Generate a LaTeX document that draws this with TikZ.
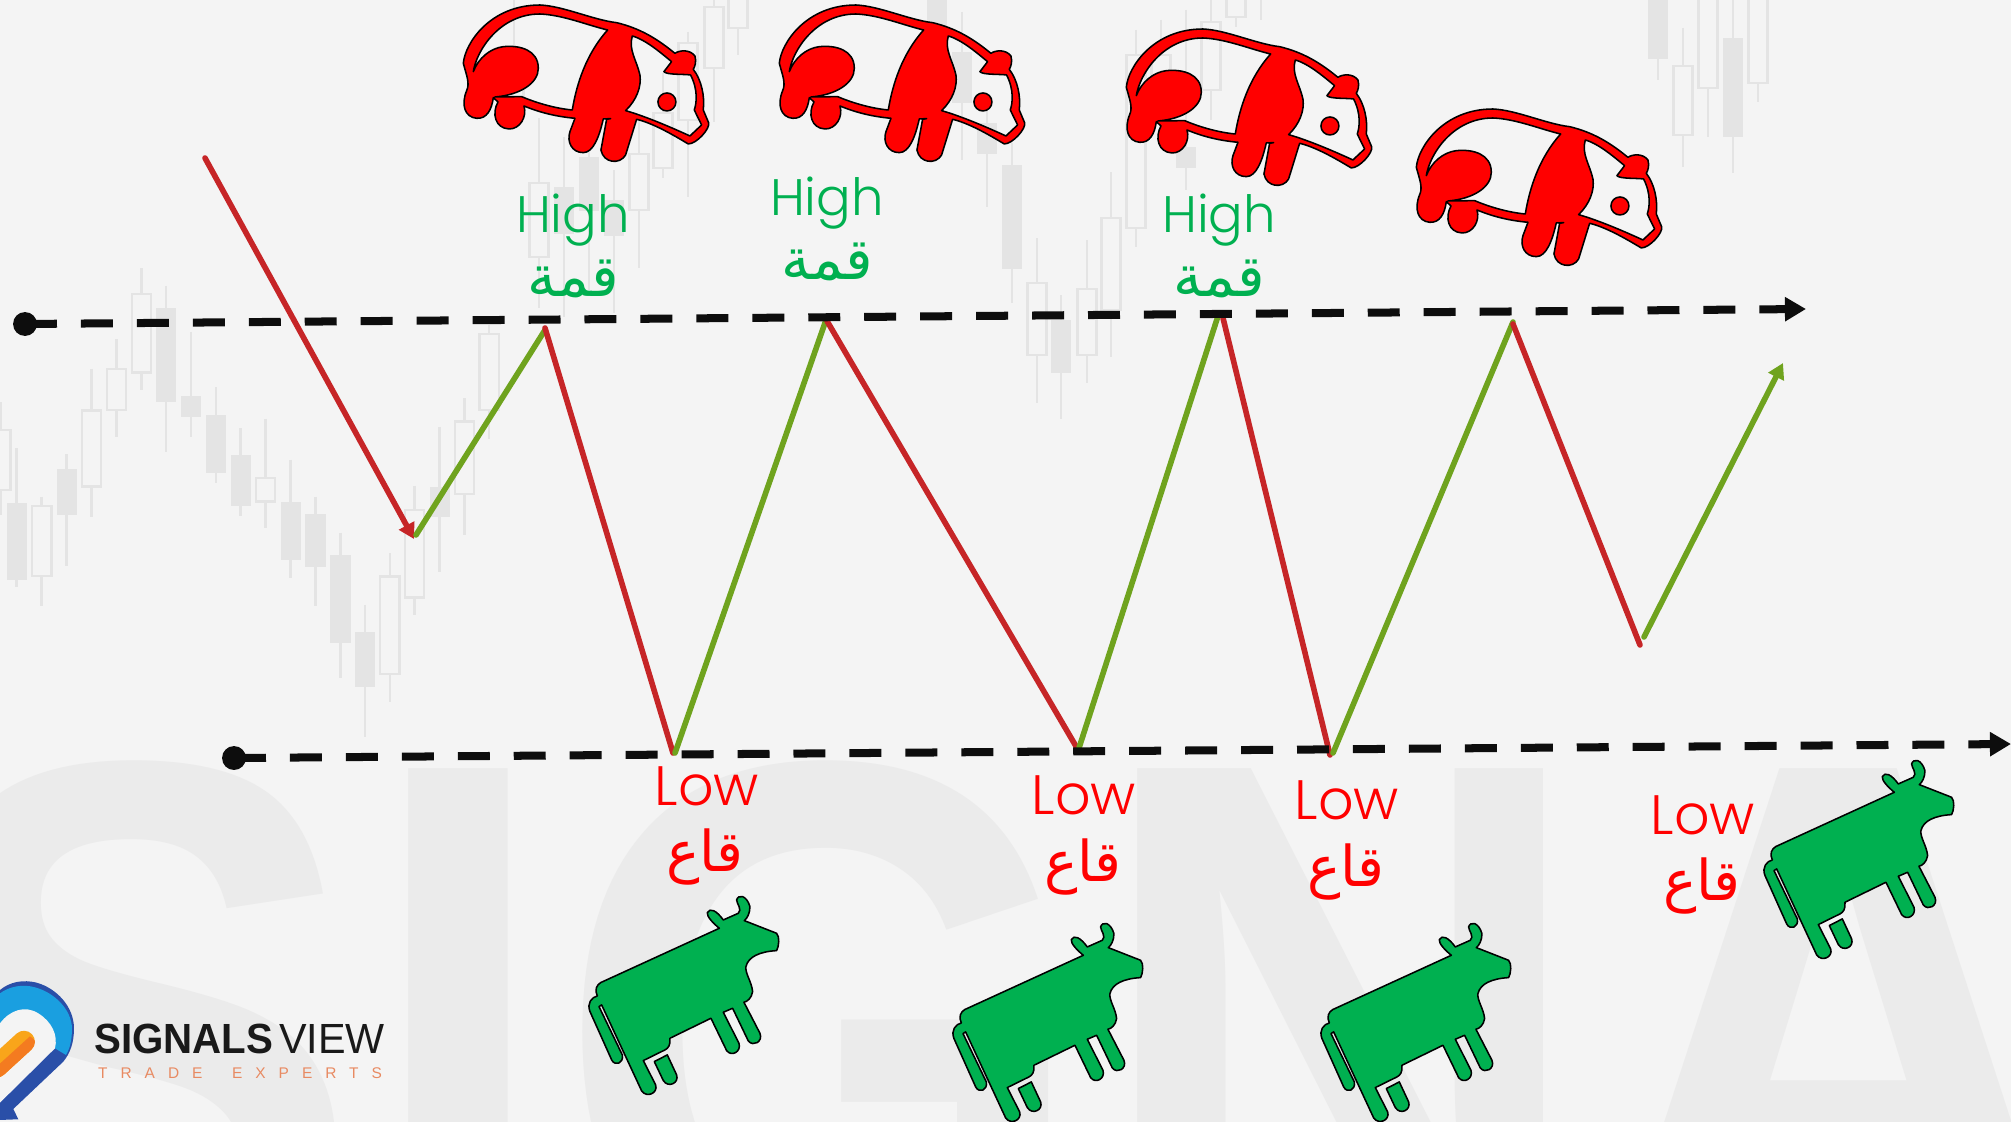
\documentclass[tikz,border=0pt]{standalone}
\usepackage{fontspec}
\usetikzlibrary{arrows.meta}
\setmainfont{Liberation Sans}
\newfontfamily\lightfont{Poppins Light}
\newfontfamily\arabicfont[Script=Arabic]{DejaVu Sans}
\newfontfamily\wmfont{Liberation Sans}
\TeXXeTstate=1
\definecolor{bgc}{HTML}{F4F4F4}
\definecolor{wmc}{HTML}{EBEBEB}
\definecolor{candlec}{HTML}{E4E4E4}
\definecolor{zred}{HTML}{C62527}
\definecolor{zgreen}{HTML}{6FA31E}
\definecolor{lblgreen}{HTML}{00B050}
\definecolor{lblred}{HTML}{FF0000}
\definecolor{logodark}{HTML}{2A4FA8}
\definecolor{logolight}{HTML}{1A9FE0}
\definecolor{logoor}{HTML}{F47B20}
\definecolor{logogold}{HTML}{F9A51A}
\definecolor{logotxt}{HTML}{E88A62}
\tikzset{
  wick/.style={draw=candlec,line width=3.8pt},
  candle s/.style={draw=candlec,fill=candlec,line width=1pt},
  candle h/.style={draw=candlec,line width=3.3pt},
  fallseg/.style={draw=zred,line width=8pt,line cap=round},
  riseseg/.style={draw=zgreen,line width=8pt,line cap=round},
  level/.style={draw=black!95,line width=11.4pt,dash pattern=on 45.5pt off 34.1pt,-{Triangle[length=30pt,width=33pt]}},
  startdot/.style={circle,fill=black!95,minimum size=34pt,inner sep=0pt},
  highlbl/.style={text=lblgreen,font=\lightfont\fontsize{73}{73}\selectfont,anchor=base,inner sep=0pt},
  lowlbl/.style={text=lblred,font=\lightfont\fontsize{79}{79}\selectfont,anchor=base,inner sep=0pt},
  higharb/.style={text=lblgreen,font=\arabicfont\fontsize{82}{82}\selectfont,anchor=base,inner sep=0pt},
  lowarb/.style={text=lblred,font=\arabicfont\fontsize{80}{80}\selectfont,anchor=base,inner sep=0pt},
  beast/.style={even odd rule,draw=black,line width=2.2pt,line join=round},
  tagtext/.style={anchor=base west,inner sep=0pt,text=logotxt,font=\fontsize{22}{22}\selectfont},
}
\newcommand{\candlerow}[2]{%
  \foreach \cx/\wt/\bt/\bb/\wb/\k in {#2}{%
    \draw[wick] (\cx,\wt) -- (\cx,\bt);
    \draw[wick] (\cx,\bb) -- (\cx,\wb);
    \draw[candle \k] (\cx-#1,\bt) rectangle (\cx+#1,\bb);
  }%
}
\newcommand{\panda}[2]{%
\begin{scope}[shift={(440+#1,#2)},x=0.016667cm,y=-0.016667cm]
\path[beast,fill=red]
 (70,190) .. controls (75,130) and (150,15) .. (300,15)
 .. controls (370,18) and (460,60) .. (530,68)
 .. controls (600,85) and (650,115) .. (705,160)
 .. controls (720,150) and (750,148) .. (765,168)
 .. controls (770,185) and (765,200) .. (760,208)
 .. controls (785,240) and (795,290) .. (790,330)
 -- (806,368) .. controls (812,385) and (770,432) .. (745,432)
 .. controls (700,405) and (640,370) .. (590,358)
 -- (557,465) .. controls (540,495) and (490,490) .. (483,450)
 -- (500,358) -- (512,356) -- (490,357)
 .. controls (478,410) and (460,458) .. (430,458)
 .. controls (395,458) and (380,425) .. (390,395)
 -- (405,355) .. controls (350,350) and (300,338) .. (252,318)
 .. controls (262,350) and (240,388) .. (207,387)
 .. controls (165,385) and (155,340) .. (174,306)
 -- (160,293) .. controls (155,330) and (140,357) .. (110,355)
 .. controls (75,352) and (62,315) .. (80,272)
 .. controls (90,250) and (80,228) .. (70,190) -- cycle
 (100,215) .. controls (110,150) and (180,42) .. (300,42)
 .. controls (370,45) and (440,75) .. (503,90)
 .. controls (440,160) and (410,250) .. (397,330)
 .. controls (340,325) and (280,305) .. (245,290)
 -- (165,291) .. controls (240,285) and (295,250) .. (295,205)
 .. controls (295,150) and (240,135) .. (190,140)
 .. controls (150,145) and (115,175) .. (100,215) -- cycle
 (577,108) .. controls (620,120) and (670,165) .. (695,185)
 -- (672,215) .. controls (680,225) and (730,222) .. (752,225)
 .. controls (775,270) and (770,310) .. (763,330)
 -- (785,375) -- (750,408)
 .. controls (700,385) and (620,350) .. (557,332)
 .. controls (590,300) and (605,260) .. (600,225)
 .. controls (590,180) and (565,150) .. (577,108) -- cycle
 (708,306) arc[start angle=0,end angle=360,radius=0.45cm];
\end{scope}}
\newcommand{\cow}[2]{%
\begin{scope}[shift={(560+#1,740+#2)},x=0.016667cm,y=-0.016667cm]
\path[beast,fill=lblgreen]
 (478,565) .. controls (460,550) and (440,530) .. (442,518)
 .. controls (450,502) and (470,512) .. (490,540)
 -- (535,520) .. controls (548,510) and (530,490) .. (530,480)
 .. controls (535,462) and (560,465) .. (570,500)
 .. controls (570,520) and (562,535) .. (553,542)
 -- (650,580) .. controls (660,590) and (657,620) .. (650,632)
 .. controls (600,635) and (565,650) .. (558,680)
 .. controls (555,700) and (575,725) .. (578,755)
 .. controls (575,775) and (562,785) .. (552,787)
 -- (600,880) .. controls (610,905) and (580,922) .. (565,903)
 -- (518,805) -- (490,817)
 -- (537,910) .. controls (545,935) and (515,952) .. (500,932)
 -- (453,835) -- (330,895)
 .. controls (332,915) and (325,925) .. (315,930)
 -- (250,962) -- (287,1035)
 .. controls (295,1060) and (260,1075) .. (245,1053)
 -- (125,795) -- (117,800) -- (187,945)
 .. controls (192,970) and (165,980) .. (155,960)
 -- (90,815) .. controls (80,790) and (95,772) .. (112,768)
 .. controls (103,750) and (110,735) .. (122,728) -- cycle;
\path[beast,fill=lblgreen]
 (283,965) -- (322,945) -- (350,1005)
 .. controls (358,1030) and (325,1045) .. (310,1022) -- cycle;
\end{scope}}
\begin{document}
\begin{tikzpicture}[x=0.05cm,y=-0.05cm]
\useasboundingbox (0,0) rectangle (2011,1122);
\begin{scope}
\clip (0,0) rectangle (2011,1122);
\fill[bgc] (0,0) rectangle (2011,1122);
% watermark
\node[anchor=base west,inner sep=0pt,text=wmc,font=\wmfont\bfseries\fontsize{982}{982}\selectfont] (watermark) at (-98,1300) {\scalebox{1}[1.12]{SIGNA}};
% candles, measured in the left crop's units
\begin{scope}[shift={(0,230)},x=0.017857cm,y=-0.016667cm]
\candlerow{27}{2/517/600/780/855/h,
47/655/820/1048/1070/s,117/800/828/1038/1128/h,187/673/717/853/1007/s,
256/417/542/770/860/h,326/328/418/540/620/h,396/115/193/428/480/h,
465/168/235/513/665/s,535/305/498/560/622/s,605/472/555/726/760/s,
674/595/677/825/858/s,744/567/745/815/895/h,814/690/818/988/1045/s,
883/800/853/1008/1128/s,953/908/977/1238/1345/s,1022/1125/1207/1368/1520/s,
1092/970/1040/1332/1415/h,1161/768/840/1103/1155/h,1231/590/772/858/1025/s,
1301/505/575/793/915/h,1370/285/312/540/628/h}
\end{scope}
\candlerow{9.5}{514/-40/51/100/124/h,539/118/183/257/308/h,564/137/187/233/317/s,
589/120/157/210/290/s,614/170/200/235/313/s,639/117/154/210/268/h,
663/73/113/168/178/h,688/32/43/120/197/h,714/-5/7/68/122/h,738/-20/-5/28/55/h,
937/-20/-5/70/90/s,962/12/52/102/160/s,987/100/123/153/207/s,1012/143/165/268/303/s,
1037/238/283/355/403/h,1061/295/320/372/419/s,1087/240/289/355/383/h,
1111/172/218/310/357/h,1136/30/55/228/247/h,1161/20/55/100/140/h,
1186/10/147/167/190/s,1211/-10/22/90/120/h,1236/-20/-5/17/27/h,1261/-20/-10/-5/20/h,
1658/-20/-5/58/80/s,1683/28/66/135/167/h,1708/-20/-5/88/137/h,1733/-5/38/136/173/s,1758/-20/-5/83/102/h}
% logo
\begin{scope}[shift={(0,960)},x=0.016667cm,y=-0.016667cm]
\fill[logodark] (0,90) .. controls (30,65) and (70,58) .. (110,68)
 .. controls (170,85) and (222,140) .. (222,205)
 .. controls (222,250) and (210,280) .. (190,305)
 -- (40,447) -- (55,478) -- (0,480) -- cycle;
\fill[logolight] (0,100) .. controls (30,78) and (70,72) .. (105,82)
 .. controls (165,98) and (215,150) .. (216,205)
 .. controls (216,240) and (210,265) .. (198,285)
 -- (165,265) -- (0,300) -- cycle;
\fill[bgc] (0,190) .. controls (30,150) and (75,135) .. (115,160)
 .. controls (155,185) and (175,225) .. (165,265)
 -- (0,428) -- cycle;
\draw[logogold,line width=31pt,line cap=round] (-10,320) -- (72,245);
\clip (-20,329) -- (90,229) -- (130,260) -- (-20,400) -- cycle;
\draw[logoor,line width=31pt,line cap=round] (-10,320) -- (72,245);
\end{scope}
\node[anchor=base west,inner sep=0pt,text=black!90,font=\bfseries\fontsize{60}{60}\selectfont] (brand) at (94,1053) {\scalebox{0.955}[1]{SIGNALS}};
\node[anchor=base west,inner sep=0pt,text=black!90,font=\fontsize{60}{60}\selectfont] (brandb) at (279,1053) {\scalebox{0.98}[1]{VIEW}};
\node[tagtext] (tag) at (98,1078) {\addfontfeature{LetterSpace=84}TRADE};
\node[tagtext] (tagb) at (232,1078) {\addfontfeature{LetterSpace=84}EXPERTS};
% zigzag
\coordinate (z0) at (205,158); \coordinate (z1) at (414,539);
\coordinate (z2) at (416,535); \coordinate (z3) at (545,330);
\coordinate (z4) at (545,328); \coordinate (z5) at (673,753);
\coordinate (z6) at (675,753); \coordinate (z7) at (826,320);
\coordinate (z8) at (827,321); \coordinate (z9) at (1077,748);
\coordinate (z10) at (1079,748); \coordinate (z11) at (1218,316);
\coordinate (z12) at (1223,318); \coordinate (z13) at (1330,755);
\coordinate (z14) at (1333,753); \coordinate (z15) at (1513,322);
\coordinate (z16) at (1513,324); \coordinate (z17) at (1640,645);
\coordinate (z18) at (1644,637); \coordinate (z19) at (1783,363);
\draw[fallseg,-{Triangle[length=22pt,width=24pt]}] (z0) -- (z1);
\draw[riseseg] (z2) -- (z3);
\draw[fallseg] (z4) -- (z5);
\draw[riseseg] (z6) -- (z7);
\draw[fallseg] (z8) -- (z9);
\draw[riseseg] (z10) -- (z11);
\draw[fallseg] (z12) -- (z13);
\draw[riseseg] (z14) -- (z15);
\draw[fallseg] (z16) -- (z17);
\draw[riseseg,-{Triangle[length=22pt,width=24pt]}] (z18) -- (z19);
% levels
\node[startdot] (topstart) at (25,324) {};
\coordinate (topend) at (1806,309);
\draw[level] (topstart.center) -- (topend);
\node[startdot] (lowstart) at (234,758) {};
\coordinate (lowend) at (2011,744);
\draw[level] (lowstart.center) -- (lowend);
% labels
\node[highlbl] (h1) at (573,232) {High};
\node[higharb] (ha1) at (573,296) {\beginR قمة\endR};
\node[highlbl] (h2) at (827,215) {High};
\node[higharb] (ha2) at (827,279) {\beginR قمة\endR};
\node[highlbl] (h3) at (1219,232) {High};
\node[higharb] (ha3) at (1219,296) {\beginR قمة\endR};
\node[lowlbl] (l1) at (707,805) {Low};
\node[lowarb] (la1) at (705,871) {\beginR قاع\endR};
\node[lowlbl] (l2) at (1084,814) {Low};
\node[lowarb] (la2) at (1083,881) {\beginR قاع\endR};
\node[lowlbl] (l3) at (1347,819) {Low};
\node[lowarb] (la3) at (1346,886) {\beginR قاع\endR};
\node[lowlbl] (l4) at (1703,834) {Low};
\node[lowarb] (la4) at (1702,900) {\beginR قاع\endR};
% animals
\panda{0}{0}\panda{316}{0}\panda{663}{24}\panda{953}{104}
\cow{0}{0}\cow{364}{27}\cow{732}{27}\cow{1175}{-136}
\end{scope}
\end{tikzpicture}
\end{document}
